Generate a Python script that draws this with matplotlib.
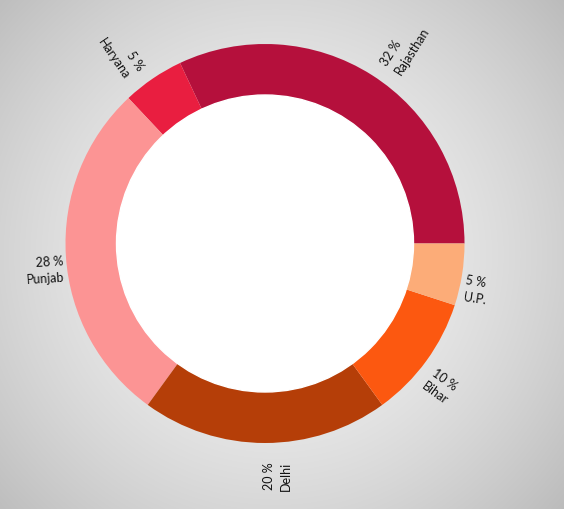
import numpy as np
import matplotlib.pyplot as plt
from matplotlib.patches import Circle

states = ['Rajasthan', 'Haryana', 'Punjab', 'Delhi', 'Bihar', 'U.P.']
shares = [32, 5, 28, 20, 10, 5]
colors = ['#B5103C', '#E91E40', '#FC9494', '#B53E08', '#FC5810', '#FCAC78']

W, H = 564, 510
cx, cy = 265, H - 244.5
outer_r = 199.5
inner_r = 148.5
line_gap = 16.5
first_drop = 4

plt.rcParams['font.family'] = ['Lato', 'DejaVu Sans']

fig = plt.figure(figsize=(W / 100, H / 100), dpi=100)
ax = fig.add_axes([0, 0, 1, 1])

# radial grey background, light in the middle, darker corners
yy, xx = np.mgrid[0:H, 0:W]
dist = np.hypot(xx - 275, yy - 255) / 380
shade = np.clip(0.96 - 0.22 * dist ** 1.6, 0, 1)
ax.imshow(np.dstack([shade] * 3), extent=(0, W, 0, H), origin='upper', zorder=0)

wedges, _ = ax.pie(shares, colors=colors, radius=outer_r, center=(cx, cy),
                   startangle=0, counterclock=True, frame=True,
                   wedgeprops=dict(linewidth=0))
ax.add_patch(Circle((cx, cy), inner_r, color='white', zorder=3))

# radial labels
total = sum(shares)
start = 0
for name, val in zip(states, shares):
    mid = start + 360 * val / total / 2
    start += 360 * val / total
    a = np.radians(mid)
    r = outer_r + 2 + 16 * abs(np.sin(a))
    x, y = cx + r * np.cos(a), cy + r * np.sin(a)
    if 90 < mid <= 270:
        rot, ha = mid - 180, 'right'
    else:
        rot, ha = (mid if mid <= 90 else mid - 360), 'left'
    t = np.radians(rot)
    ux, uy = np.sin(t), -np.cos(t)  # "down" in the text frame
    kw = dict(rotation=rot, rotation_mode='anchor', ha=ha, va='center',
              fontsize=9, color='#111111', zorder=4)
    ax.text(x + first_drop * ux, y + first_drop * uy, f'{val} %', **kw)
    ax.text(x + (first_drop + line_gap) * ux, y + (first_drop + line_gap) * uy, name, **kw)

ax.set_xlim(0, W)
ax.set_ylim(0, H)
ax.set_aspect('equal')
ax.axis('off')

fig.savefig('out.png', dpi=100)
